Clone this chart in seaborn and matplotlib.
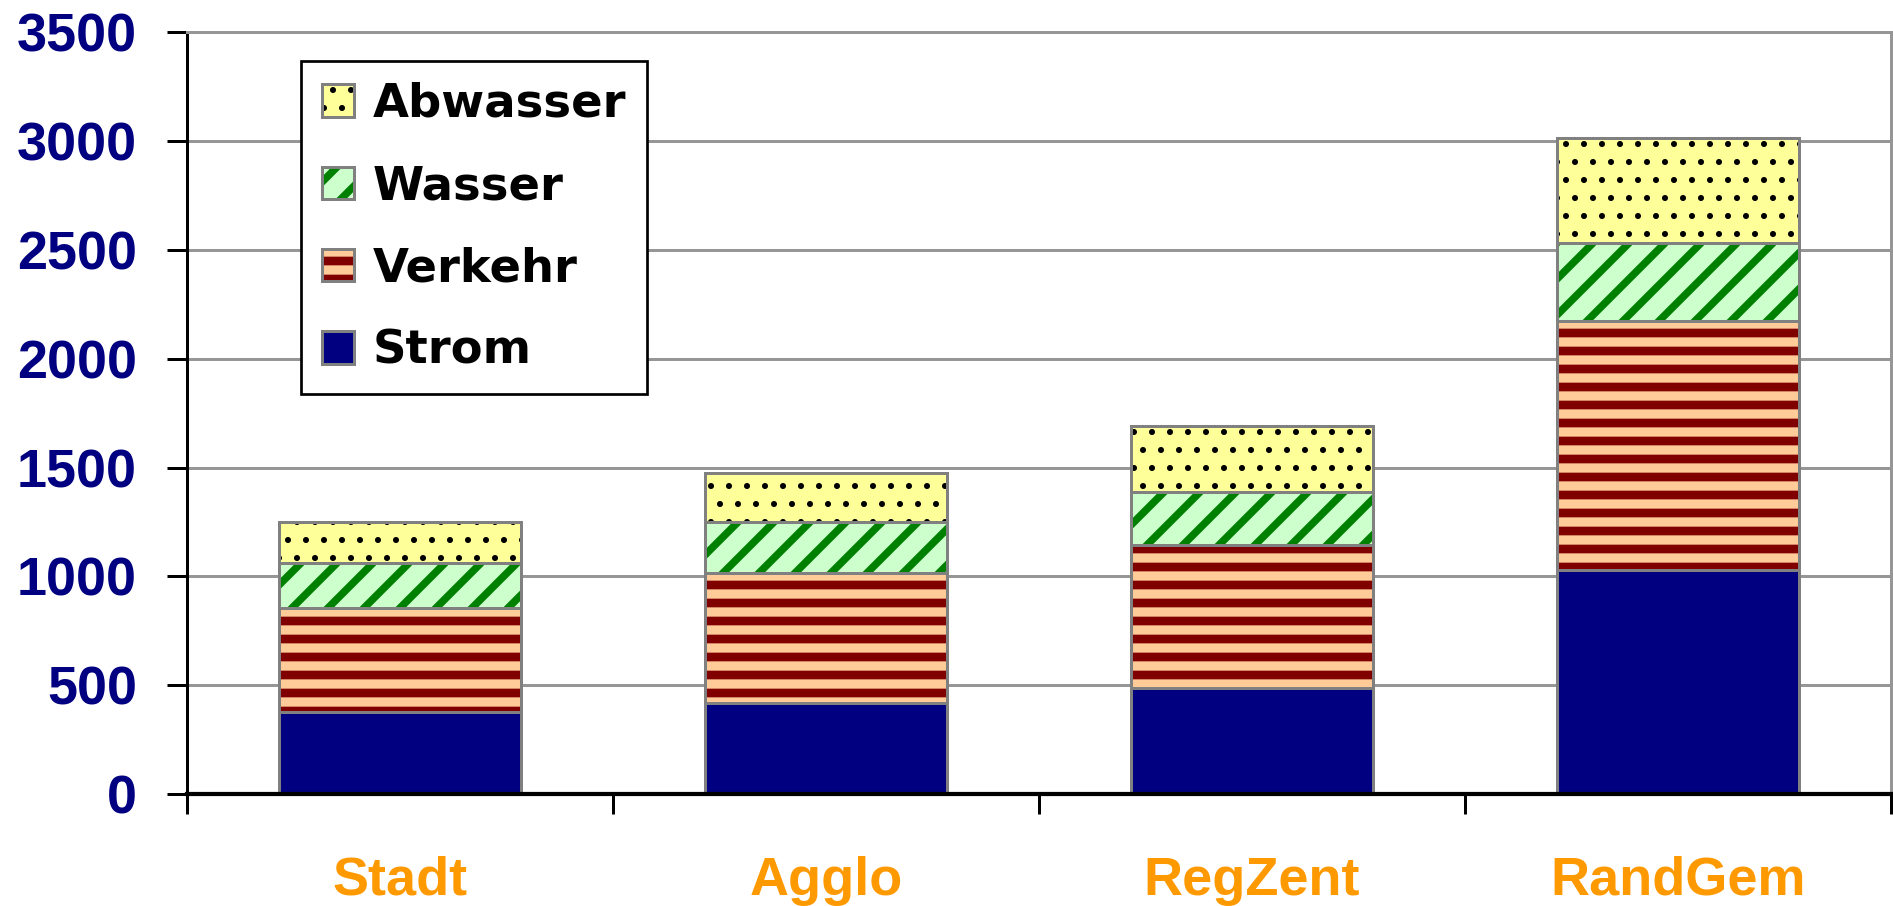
import numpy as np
import pandas as pd
import matplotlib
matplotlib.use("Agg")
import matplotlib.pyplot as plt
import matplotlib.colors as mcolors
import seaborn as sns

# ---- data ----
categories = ["Stadt", "Agglo", "RegZent", "RandGem"]
series_names = ["Strom", "Verkehr", "Wasser", "Abwasser"]
strom = [379, 420, 486, 1028]
verkehr = [475, 596, 660, 1144]
wasser = [206, 234, 243, 361]
abwasser = [192, 225, 303, 483]
yticks = [0, 500, 1000, 1500, 2000, 2500, 3000, 3500]

# ---- styles ----
styles = {
    "Strom":    dict(face="#000080", hatch=None, hcolor="#000080", hlw=0.5),
    "Verkehr":  dict(face="#FFCC99", hatch="--", hcolor="#800000", hlw=2.9),
    "Wasser":   dict(face="#CCFFCC", hatch="//", hcolor="#008000", hlw=2.5),
    "Abwasser": dict(face="#FFFF99", hatch="..", hcolor="#000000", hlw=0.8),
}
EDGE = "#808080"

sns.set_style("white")
plt.rcParams["font.family"] = ["Liberation Sans", "DejaVu Sans"]
plt.rcParams["text.color"] = "black"

DPI = 216
fig = plt.figure(figsize=(1893 / DPI, 906 / DPI), dpi=DPI)
ax = fig.add_axes([187 / 1893, 1 - 794 / 906, (1891 - 187) / 1893, (794 - 32.3) / 906])


def wrap_draw(p, lw):
    orig = p.draw

    def draw(renderer, _orig=orig, _lw=lw):
        with plt.rc_context({"hatch.linewidth": _lw}):
            return _orig(renderer)
    p.draw = draw


def style_patch(p, st):
    p.set_facecolor(st["face"])
    p.set_edgecolor(EDGE)
    p.set_linewidth(1.0)
    if st["hatch"]:
        p.set_hatch(st["hatch"])
        if hasattr(p, "set_hatchcolor"):
            p.set_hatchcolor(st["hcolor"])
        else:
            p._hatch_color = mcolors.to_rgba(st["hcolor"])
        if hasattr(p, "set_hatch_linewidth"):
            p.set_hatch_linewidth(st["hlw"])
        p._hatch_linewidth = st["hlw"]
        wrap_draw(p, st["hlw"])


values = {"Strom": strom, "Verkehr": verkehr, "Wasser": wasser, "Abwasser": abwasser}
cum = np.cumsum(np.array([values[s] for s in series_names], dtype=float), axis=0)

# draw tallest cumulative first, then overdraw lower layers
for i in range(len(series_names) - 1, -1, -1):
    name = series_names[i]
    df = pd.DataFrame({"Gebiet": categories, "Wert": cum[i]})
    n_before = len(ax.patches)
    sns.barplot(data=df, x="Gebiet", y="Wert", order=categories,
                color=styles[name]["face"], saturation=1, width=0.57,
                errorbar=None, ax=ax)
    for p in ax.patches[n_before:]:
        style_patch(p, styles[name])

ax.set_xlim(-0.5, 3.5)
ax.set_ylim(0, 3500)
ax.set_xlabel("")
ax.set_ylabel("")

# grid
ax.set_axisbelow(True)
ax.yaxis.grid(True, color="#969696", linewidth=1.0)
ax.xaxis.grid(False)

# y ticks
ax.set_yticks(yticks)
ax.set_yticklabels([str(v) for v in yticks])
ax.tick_params(axis="y", which="major", direction="out", length=6.7, width=1.0,
               color="black", pad=10, labelsize=18, labelcolor="#000080", left=True)
for t in ax.get_yticklabels():
    t.set_fontweight("bold")

# x ticks: boundaries as major, categories as minor labels
ax.set_xticks(np.arange(-0.5, 4.0, 1.0))
ax.set_xticklabels([])
ax.set_xticks(np.arange(len(categories)), minor=True)
ax.set_xticklabels(categories, minor=True)
ax.tick_params(axis="x", which="major", direction="out", length=6.7, width=1.0,
               color="black", bottom=True)
ax.tick_params(axis="x", which="minor", length=0, pad=20.5, labelsize=18,
               labelcolor="#FF9900")
for t in ax.get_xticklabels(minor=True):
    t.set_fontweight("bold")

# spines
for s in ["left", "bottom", "top", "right"]:
    ax.spines[s].set_visible(True)
ax.spines["left"].set_color("black")
ax.spines["left"].set_linewidth(1.0)
ax.spines["bottom"].set_color("black")
ax.spines["bottom"].set_linewidth(1.4)
ax.spines["top"].set_color("#969696")
ax.spines["top"].set_linewidth(1.0)
ax.spines["right"].set_color("#969696")
ax.spines["right"].set_linewidth(1.0)

# legend (reverse order)
handles = []
for name in reversed(series_names):
    h = matplotlib.patches.Patch()
    style_patch(h, styles[name])
    handles.append(h)
leg = ax.legend(handles, list(reversed(series_names)), loc="upper left",
                bbox_to_anchor=(0.0669, 0.9623), borderaxespad=0,
                frameon=True, fancybox=False, shadow=False,
                prop=dict(family="DejaVu Sans", weight="bold", size=15.5),
                labelcolor="black",
                handlelength=0.7, handleheight=0.7, handletextpad=0.4,
                borderpad=0.45, labelspacing=0.8)
leg.get_frame().set_edgecolor("black")
leg.get_frame().set_linewidth(0.9)
leg.get_frame().set_facecolor("white")
leg.get_frame().set_alpha(1)
for p, name in zip(leg.get_patches(), reversed(series_names)):
    style_patch(p, styles[name])

fig.savefig("out.png", dpi=DPI, facecolor="white")
